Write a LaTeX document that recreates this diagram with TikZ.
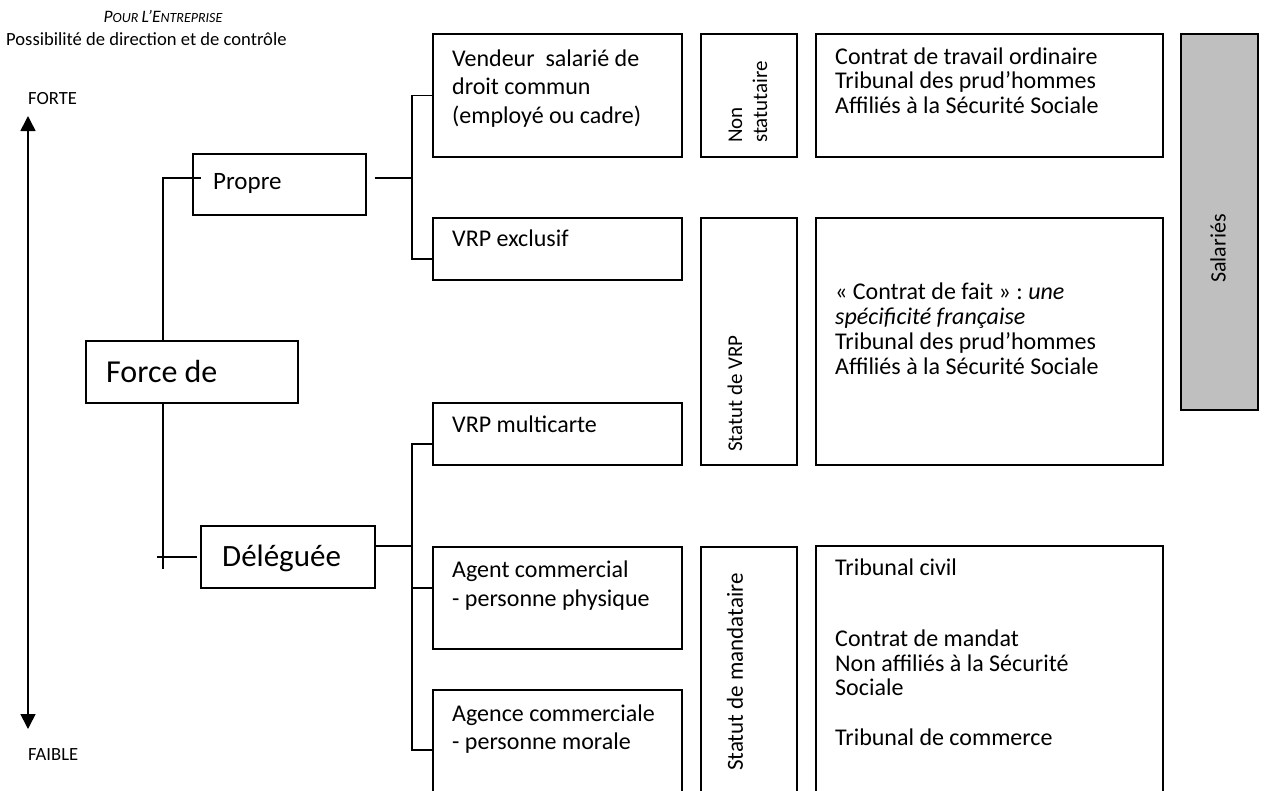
\documentclass[tikz,border=0pt]{standalone}
\usepackage{fontspec}
\setmainfont{Carlito}
\usetikzlibrary{arrows.meta}

\begin{document}
\begin{tikzpicture}[x=1pt,y=-1pt,
  box/.style={draw, line width=1.6pt, inner sep=0pt, anchor=north west},
  link/.style={line width=1.6pt},
  txt/.style={inner sep=0pt, anchor=base west, align=left, font=\fontsize{24}{24.5}\selectfont},
  vtxt/.style={inner sep=0pt, rotate=90, anchor=west, align=left},
  axis/.style={line width=1.6pt, {Triangle[width=15pt,length=15pt]}-{Triangle[width=15pt,length=15pt]}}]

\useasboundingbox (0,0) rectangle (1265,790);
\clip (0,0) rectangle (1265,790);

% heading (base anchor of a multi-line text is its last line)
\node[inner sep=0pt, anchor=base, font=\itshape] (pour) at (163,22)
  {{\fontsize{17.5}{17.5}\selectfont P}{\fontsize{14}{14}\selectfont OUR }{\fontsize{17.5}{17.5}\selectfont L’E}{\fontsize{14}{14}\selectfont NTREPRISE}};
\node[inner sep=0pt, anchor=base west, font=\fontsize{18.6}{20}\selectfont] (poss) at (6,45)
  {Possibilité de direction et de contrôle};

% vertical scale
\node[inner sep=0pt, anchor=base west, font=\fontsize{18.6}{20}\selectfont] (forte) at (28,104) {FORTE};
\node[inner sep=0pt, anchor=base west, font=\fontsize{18.6}{20}\selectfont] (faible) at (28,760) {FAIBLE};
\coordinate (axtop) at (28,116);
\coordinate (axbot) at (28,729);
\draw[axis] (axtop) -- (axbot);

% tree nodes
\node[box, minimum width=212pt, minimum height=62pt] (force)  at (85,340) {};
\node[box, minimum width=173pt, minimum height=61pt] (propre) at (192,153) {};
\node[box, minimum width=174pt, minimum height=62pt] (deleg)  at (200,525) {};

\node[inner sep=0pt, anchor=base west, font=\fontsize{32}{33}\selectfont] (forcet) at (106,382) {Force de};
\node[inner sep=0pt, anchor=base west, font=\fontsize{25}{26}\selectfont] (propret) at (213,189) {Propre};
\node[inner sep=0pt, anchor=base west, font=\fontsize{31}{32}\selectfont] (delegt) at (222,566) {Déléguée};

% categories
\node[box, minimum width=249pt, minimum height=123pt] (vend)  at (432,33) {};
\node[box, minimum width=249pt, minimum height=62pt]  (vrpex) at (432,217) {};
\node[box, minimum width=249pt, minimum height=62pt]  (vrpmc) at (432,402) {};
\node[box, minimum width=249pt, minimum height=102pt] (agent) at (432,546) {};
\node[box, minimum width=249pt, minimum height=130pt] (agence) at (432,689) {};

\node[txt, font=\fontsize{24}{28.5}\selectfont] (vendt) at (452,123)
  {Vendeur~ salarié de\\droit commun\\(employé ou cadre)};
\node[txt] (vrpext) at (452,246) {VRP exclusif};
\node[txt] (vrpmct) at (452,432) {VRP multicarte};
\node[txt, font=\fontsize{24}{29}\selectfont] (agentt) at (452,606) {Agent commercial\\- personne physique};
\node[txt, font=\fontsize{24}{28}\selectfont] (agencet) at (452,749) {Agence commerciale\\- personne morale};

% status column
\node[box, minimum width=96pt, minimum height=123pt] (nonstat)  at (700,33) {};
\node[box, minimum width=96pt, minimum height=247pt] (statvrp)  at (700,217) {};
\node[box, minimum width=96pt, minimum height=274pt] (statmand) at (700,546) {};

\node[vtxt, font=\fontsize{21}{25}\selectfont] (nonstatt) at (748,143) {Non\\statutaire};
\node[vtxt, font=\fontsize{21}{25}\selectfont] (statvrpt) at (735,452) {Statut de VRP};
\node[vtxt, font=\fontsize{23}{25}\selectfont] (statmandt) at (735,771) {Statut de mandataire};

% legal framework column
\node[box, minimum width=347pt, minimum height=123pt] (ctrav) at (815,33) {};
\node[box, minimum width=347pt, minimum height=247pt] (cfait) at (815,217) {};
\node[box, minimum width=347pt, minimum height=275pt] (tciv)  at (815,545) {};

\node[txt] (ctravt) at (835,113)
  {Contrat de travail ordinaire\\Tribunal des prud’hommes\\Affiliés à la Sécurité Sociale};
\node[txt, font=\fontsize{24}{25}\selectfont] (cfaitt) at (835,374)
  {«~Contrat de fait~»~:~\textit{une}\\\textit{spécificité française}\\Tribunal des prud’hommes\\Affiliés à la Sécurité Sociale};
\node[txt] (tcivt) at (835,745)
  {Tribunal civil\\[47pt]Contrat de mandat\\Non affiliés à la Sécurité\\Sociale\\[25pt]Tribunal de commerce};

% employees band
\node[box, fill=black!25, minimum width=77pt, minimum height=376pt] (sal) at (1180,33) {};
\node[vtxt, font=\fontsize{22}{24}\selectfont] (salt) at (1218,283) {Salariés};

% connectors
\coordinate (bus) at (412,0);
\draw[link] ([xshift=-29pt]force.north) |- ([xshift=9pt,yshift=6.5pt]propre.west);
\draw[link] ([xshift=-29pt]force.south) -- ++(0,165);
\draw[link] ([xshift=-43pt]deleg.west) -- ([xshift=-3pt]deleg.west);

\draw[link] ([xshift=8pt,yshift=6.5pt]propre.east) -- ([yshift=6.5pt]propre.east -| bus);
\draw[link] (vend.west) -- (vend.west -| bus) -- ([yshift=-10pt]vrpex.west -| bus) -- ([yshift=-10pt]vrpex.west);

\draw[link] ([yshift=11pt]deleg.east) -- ([yshift=11pt]deleg.east -| bus);
\draw[link] ([yshift=-10pt]vrpmc.west) -- ([yshift=-10pt]vrpmc.west -| bus)
  -- ([yshift=-61pt]agence.north west -| bus) -- ([yshift=-61pt]agence.north west);
\draw[link] ([yshift=10pt]agent.west -| bus) -- ([yshift=10pt]agent.west);
\end{tikzpicture}
\end{document}
